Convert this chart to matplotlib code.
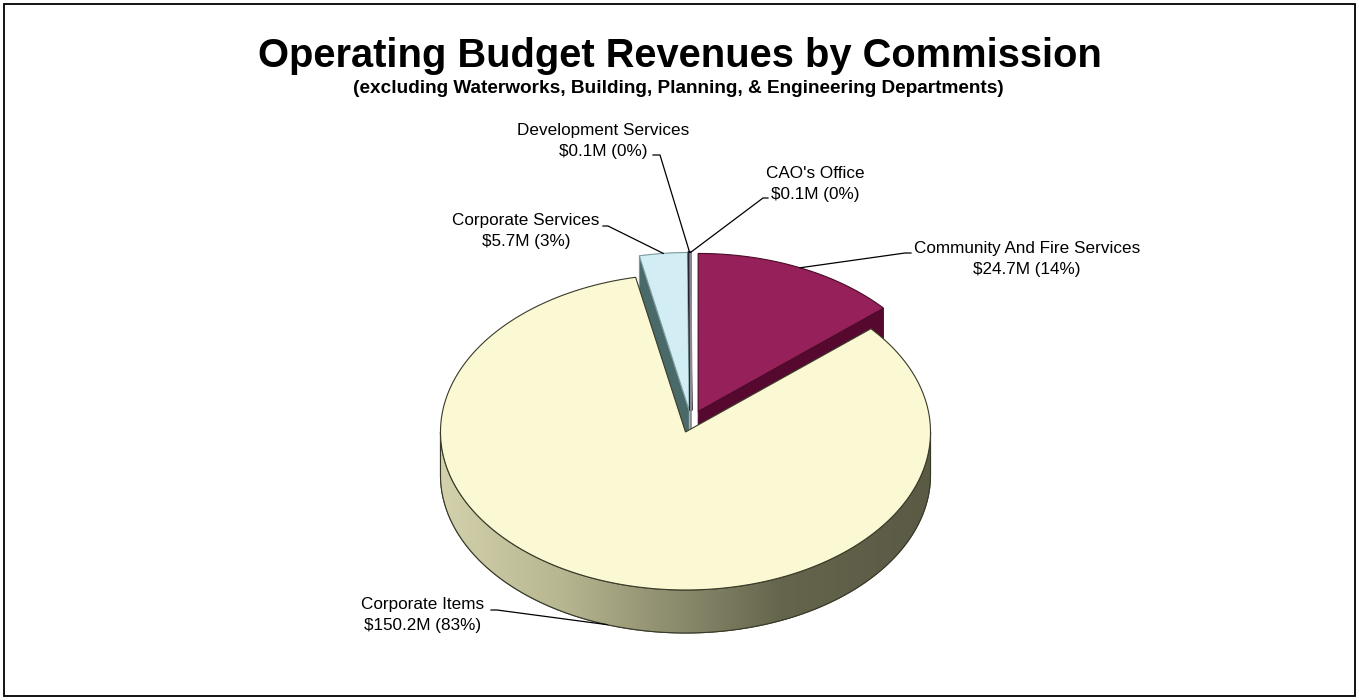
import numpy as np
import matplotlib.pyplot as plt
from matplotlib.patches import Polygon, Rectangle
from matplotlib.colors import LinearSegmentedColormap

plt.rcParams['font.family'] = ['Liberation Sans', 'DejaVu Sans']

# revenue by commission, in $M, in clockwise order from 12 o'clock
commissions = ["Community And Fire Services", "Corporate Items", "Corporate Services",
               "Development Services", "CAO's Office"]
revenue = [24.7, 150.2, 5.7, 0.1, 0.1]
percent = [14, 83, 3, 0, 0]

top_colors = ['#962059', '#FBF9D3', '#D3EDF4', '#3B2F4F', '#FFFFFF']
side_colors = ['#56082F', '#A8A884', '#4A6A6A', '#2A2038', '#D8D8D8']
edge_colors = ['#4A0A28', '#3A3A2A', '#7A9A9E', '#2A2038', '#8A8A8A']

# label block centres, and where each leader meets its label (with a short tail)
label_pos = [(1027, 259), (423, 615), (526, 231), (603, 141), (815, 184)]
leader_end = [(911, 253), (491, 610), (603, 226), (653, 155), (768, 198)]
leader_tail = [-6, 6, 5, 7, -5]

# pie geometry (pixel units)
CX, CY = 691, 421.5
A, B = 245, 158
DEPTH = 43
EXPLODE = 0.07

fig = plt.figure(figsize=(13.59, 7.0), dpi=100)
ax = fig.add_axes([0, 0, 1, 1])
ax.set_xlim(0, 1359)
ax.set_ylim(700, 0)
ax.axis('off')

ax.add_patch(Rectangle((4, 4), 1351, 692, fill=False, ec='black', lw=1.3, zorder=0))


def rim(cx, cy, th):
    return np.column_stack([cx + A * np.sin(th), cy - B * np.cos(th)])


total = sum(revenue)
bounds = np.concatenate([[0], np.cumsum(revenue)]) / total * 2 * np.pi
slices = []
for i in range(len(revenue)):
    t0, t1 = bounds[i], bounds[i + 1]
    mid = (t0 + t1) / 2
    cx = CX + EXPLODE * A * np.sin(mid)
    cy = CY - EXPLODE * B * np.cos(mid)
    slices.append((t0, t1, mid, cx, cy))

down = np.array([0, DEPTH])
grad_cmap = LinearSegmentedColormap.from_list(
    'wall', [(0, '#D4D2AC'), (0.25, '#B6B690'), (0.5, '#88886B'),
             (0.7, '#65654D'), (1, '#5A5A45')])

# side walls first
for i, (t0, t1, mid, cx, cy) in enumerate(slices):
    c = np.array([cx, cy])
    # outer curved wall, front half only
    lo, hi = max(t0, np.pi / 2), min(t1, 3 * np.pi / 2)
    if hi > lo:
        th = np.linspace(lo, hi, 200)
        top = rim(cx, cy, th)
        wall = Polygon(np.vstack([top, (top + down)[::-1]]), closed=True,
                       fc=side_colors[i], ec=edge_colors[i], lw=0.8, zorder=2)
        ax.add_patch(wall)
        if i == 1:
            grad = np.linspace(0, 1, 256).reshape(1, -1)
            im = ax.imshow(grad, cmap=grad_cmap, aspect='auto',
                           extent=[cx - A, cx + A, cy + B + DEPTH, cy - 5],
                           zorder=2.1)
            im.set_clip_path(wall)
            ax.add_patch(Polygon(wall.get_xy(), closed=True, fill=False,
                                 ec='#3A3A2A', lw=0.8, zorder=2.2))
    # radial faces that face the viewer
    for t, visible in ((t0, np.sin(t0) < -1e-6), (t1, np.sin(t1) > 1e-6)):
        if visible:
            p = rim(cx, cy, np.array([t]))[0]
            face = np.array([c, p, p + down, c + down])
            ax.add_patch(Polygon(face, closed=True, fc=side_colors[i],
                                 ec=edge_colors[i], lw=0.6, zorder=1.5))

# top faces
for i, (t0, t1, mid, cx, cy) in enumerate(slices):
    th = np.linspace(t0, t1, max(3, int((t1 - t0) * 100)))
    pts = np.vstack([[cx, cy], rim(cx, cy, th)])
    lw = {3: 2.2, 4: 1.2}.get(i, 0.8)
    ax.add_patch(Polygon(pts, closed=True, fc=top_colors[i], ec=edge_colors[i],
                         lw=lw, zorder=3))

# labels with leader lines
for i, (t0, t1, mid, cx, cy) in enumerate(slices):
    anchor = rim(cx, cy, np.array([mid]))[0]
    if i == 1:
        anchor = anchor + down
    text = f"{commissions[i]}\n${revenue[i]:.1f}M ({percent[i]}%)"
    lx, ly = label_pos[i]
    ax.text(lx, ly, text, ha='center', va='center', fontsize=12.3,
            linespacing=1.5, color='black', zorder=5)
    ex, ey = leader_end[i]
    ax.plot([anchor[0], ex + leader_tail[i], ex], [anchor[1], ey, ey],
            color='black', lw=0.9, zorder=4)

ax.text(680, 67, 'Operating Budget Revenues by Commission', ha='center',
        va='baseline', fontsize=28.7, fontweight='bold')
ax.text(678, 93, '(excluding Waterworks, Building, Planning, & Engineering Departments)',
        ha='center', va='baseline', fontsize=13.7, fontweight='bold')

fig.savefig('out.png', dpi=100)
